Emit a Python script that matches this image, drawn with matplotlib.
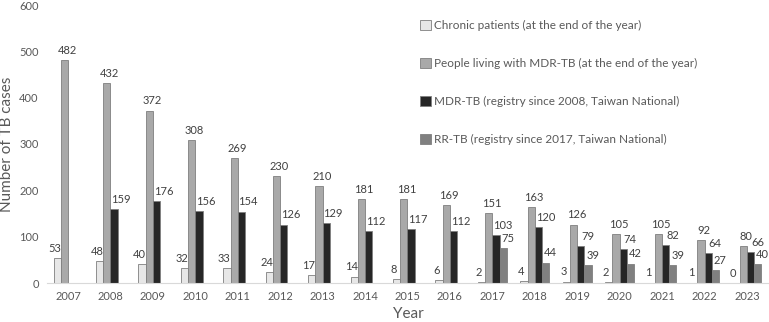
import matplotlib.pyplot as plt
import numpy as np

plt.rcParams['font.family'] = ['Lato', 'DejaVu Sans']

years = [str(y) for y in range(2007, 2024)]
chronic = [53, 48, 40, 32, 33, 24, 17, 14, 8, 6, 2, 4, 3, 2, 1, 1, 0]
living_mdr = [482, 432, 372, 308, 269, 230, 210, 181, 181, 169, 151, 163, 126, 105, 105, 92, 80]
mdr_tb = [None, 159, 176, 156, 154, 126, 129, 112, 117, 112, 103, 120, 79, 74, 82, 64, 66]
rr_tb = [None] * 10 + [75, 44, 39, 42, 39, 27, 40]

series = [
    ("Chronic patients (at the end of the year)", chronic, '#e7e7e7', -2),
    ("People living with MDR-TB (at the end of the year)", living_mdr, '#a9a9a9', 2),
    ("MDR-TB (registry since 2008, Taiwan National)", mdr_tb, '#262626', 5),
    ("RR-TB (registry since 2017, Taiwan National)", rr_tb, '#808080', 3.5),
]

fig = plt.figure(figsize=(7.69, 3.22), dpi=100)
ax = fig.add_axes([47 / 769, 39 / 322, 1 - 47 / 769, 278 / 322])

x = np.arange(len(years))
w = 0.17
for i, (name, vals, color, dx) in enumerate(series):
    xs = [xi for xi, v in zip(x, vals) if v is not None]
    ys = [v for v in vals if v is not None]
    pos = np.array(xs) + (i - 1.5) * w
    ax.bar(pos, ys, width=w, color=color, edgecolor='#7f7f7f', linewidth=0.6, label=name)
    for px, v in zip(pos, ys):
        ax.annotate(str(v), (px, v), xytext=(dx, 3), textcoords='offset points',
                    ha='center', va='bottom', fontsize=8, color='#404040')

ax.set_ylim(0, 600)
ax.set_xlim(-0.495, 16.52)
ax.set_yticks(range(0, 601, 100))
ax.set_xticks(x)
ax.set_xticklabels(years)
ax.tick_params(axis='both', length=0, labelsize=8, colors='#595959', pad=6)
for s in ['top', 'right', 'left']:
    ax.spines[s].set_visible(False)
ax.spines['bottom'].set_color('#d9d9d9')
ax.set_ylabel("Number of TB cases", fontsize=11, color='#595959')
ax.set_xlabel("Year", fontsize=11, color='#595959', labelpad=3)

ax.legend(loc='upper left', bbox_to_anchor=(0.502, 0.985), frameon=False, fontsize=8.5,
          labelspacing=2.3, handlelength=0.9, handleheight=0.9, handletextpad=0.3,
          labelcolor='#595959')

fig.savefig("out.png", dpi=100)
